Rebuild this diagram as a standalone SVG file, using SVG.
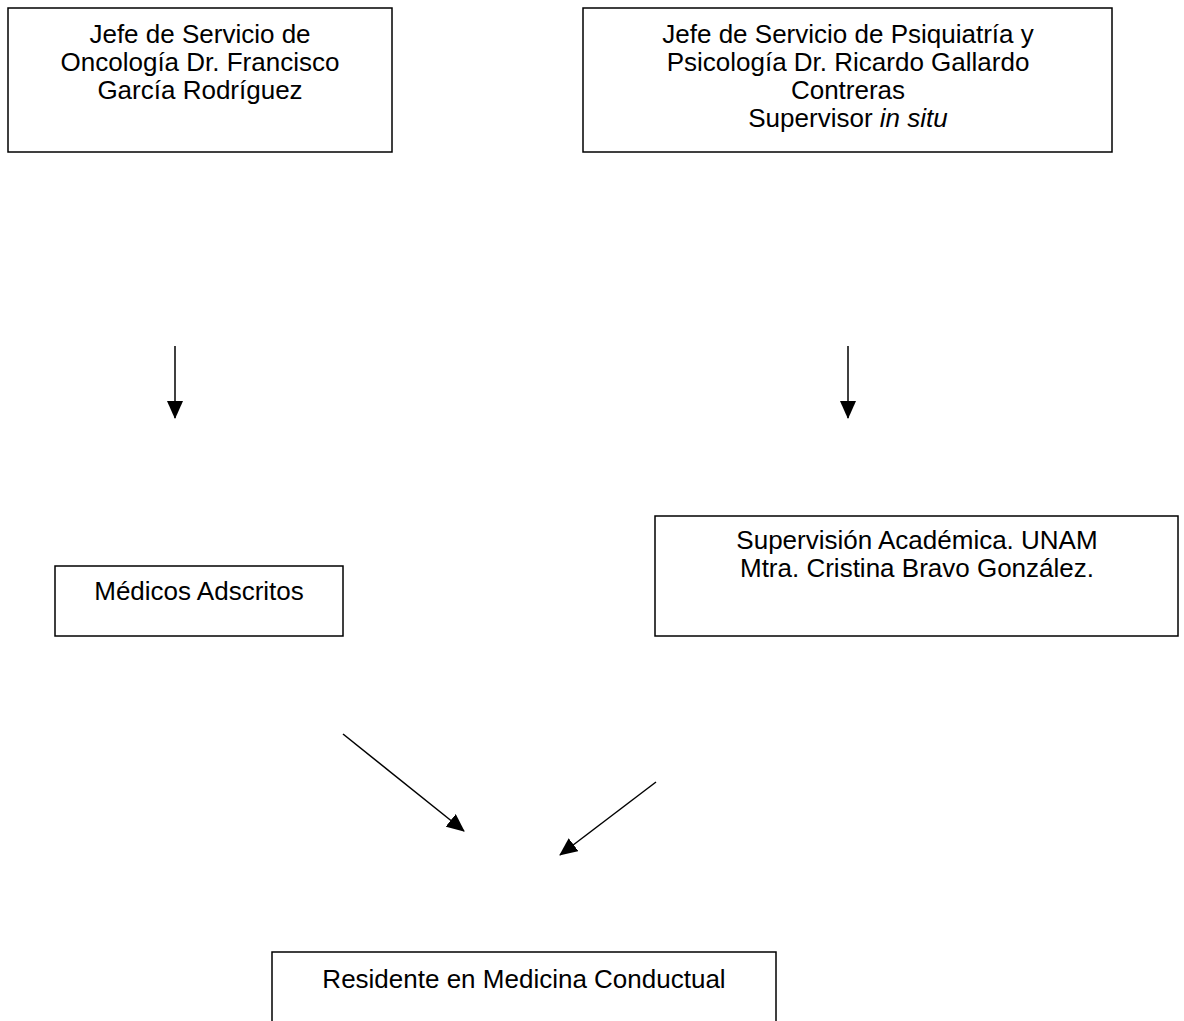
<svg xmlns="http://www.w3.org/2000/svg" width="1184" height="1021" viewBox="0 0 1184 1021">
<style>
.box{fill:#fff;stroke:#000;stroke-width:1.5}
.t{font-family:"Liberation Sans",Arial,sans-serif;font-size:26px;fill:#000;text-anchor:middle}
.c{stroke:#000;stroke-width:1.5;fill:none;marker-end:url(#ah)}
</style>
<defs>
<marker id="ah" markerUnits="userSpaceOnUse" markerWidth="18" markerHeight="16" viewBox="0 0 18 16" refX="17" refY="8" orient="auto">
<path d="M0,0 L18,8 L0,16 Z" fill="#000"/>
</marker>
</defs>
<rect width="1184" height="1021" fill="#fff"/>
<g id="connectors">
<line class="c" x1="175" y1="346" x2="175" y2="418"/>
<line class="c" x1="848" y1="346" x2="848" y2="418"/>
<line class="c" x1="343" y1="734" x2="464" y2="831"/>
<line class="c" x1="656" y1="782" x2="560" y2="855"/>
</g>
<g id="jefe-oncologia">
<rect class="box" x="8" y="8" width="384" height="144"/>
<text class="t" x="200" y="43">Jefe de Servicio de</text>
<text class="t" x="200" y="71">Oncología Dr. Francisco</text>
<text class="t" x="200" y="99">García Rodríguez</text>
</g>
<g id="jefe-psiquiatria">
<rect class="box" x="583" y="8" width="529" height="144"/>
<text class="t" x="848" y="43">Jefe de Servicio de Psiquiatría y</text>
<text class="t" x="848" y="71">Psicología Dr. Ricardo Gallardo</text>
<text class="t" x="848" y="99">Contreras</text>
<text class="t" x="848" y="127">Supervisor <tspan font-style="italic">in situ</tspan></text>
</g>
<g id="medicos-adscritos">
<rect class="box" x="55" y="566" width="288" height="70"/>
<text class="t" x="199" y="600">Médicos Adscritos</text>
</g>
<g id="supervision-academica">
<rect class="box" x="655" y="516" width="523" height="120"/>
<text class="t" x="917" y="549">Supervisión Académica. UNAM</text>
<text class="t" x="917" y="577">Mtra. Cristina Bravo González.</text>
</g>
<g id="residente">
<rect class="box" x="272" y="952" width="504" height="90"/>
<text class="t" x="524" y="988">Residente en Medicina Conductual</text>
</g>
</svg>
